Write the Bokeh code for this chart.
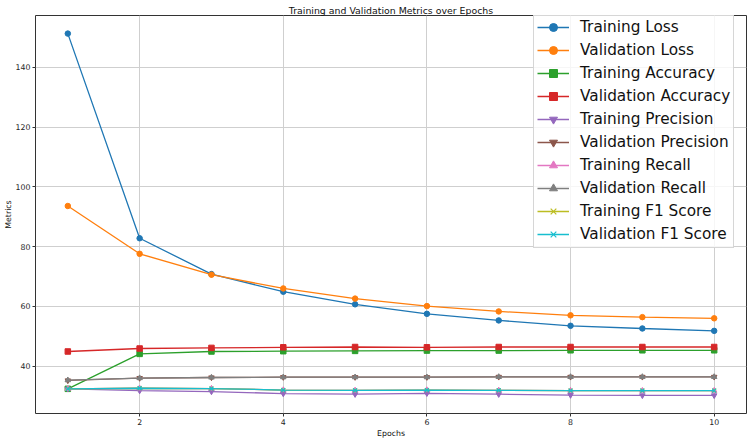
from bokeh.plotting import figure
from bokeh.models import Range1d, Legend, LegendItem, SingleIntervalTicker
from bokeh.embed import file_html
from bokeh.resources import INLINE

epochs = [1, 2, 3, 4, 5, 6, 7, 8, 9, 10]
train_loss = [151.3, 82.8, 70.8, 64.9, 60.7, 57.5, 55.3, 53.5, 52.6, 51.8]
val_loss = [93.6, 77.6, 70.6, 66.0, 62.6, 60.1, 58.3, 57.0, 56.4, 56.0]
train_acc = [32.4, 44.1, 44.9, 45.0, 45.1, 45.2, 45.2, 45.3, 45.3, 45.3]
val_acc = [44.9, 45.9, 46.1, 46.3, 46.4, 46.3, 46.4, 46.4, 46.4, 46.4]
train_prec = [32.4, 31.8, 31.5, 30.8, 30.6, 30.9, 30.6, 30.3, 30.2, 30.2]
val_prec = [35.2, 36.0, 36.2, 36.3, 36.3, 36.3, 36.4, 36.4, 36.4, 36.4]
train_rec = [32.4, 32.6, 32.5, 32.0, 31.9, 32.0, 31.9, 31.8, 31.8, 31.8]
val_rec = [35.3, 36.0, 36.2, 36.3, 36.3, 36.3, 36.4, 36.4, 36.4, 36.4]
train_f1 = [32.4, 32.6, 32.5, 32.0, 31.9, 32.0, 31.9, 31.8, 31.8, 31.8]
val_f1 = [32.4, 32.6, 32.5, 32.0, 31.9, 32.0, 31.9, 31.8, 31.8, 31.8]

series = [
    ("Training Loss", train_loss, "#1f77b4", "circle"),
    ("Validation Loss", val_loss, "#ff7f0e", "circle"),
    ("Training Accuracy", train_acc, "#2ca02c", "square"),
    ("Validation Accuracy", val_acc, "#d62728", "square"),
    ("Training Precision", train_prec, "#9467bd", "inverted_triangle"),
    ("Validation Precision", val_prec, "#8c564b", "inverted_triangle"),
    ("Training Recall", train_rec, "#e377c2", "triangle"),
    ("Validation Recall", val_rec, "#7f7f7f", "triangle"),
    ("Training F1 Score", train_f1, "#bcbd22", "x"),
    ("Validation F1 Score", val_f1, "#17becf", "x"),
]

FONT = "DejaVu Sans"
allv = [v for s in series for v in s[1]]
lo, hi = min(allv), max(allv)
pad = 0.05 * (hi - lo)
xpad = 0.05 * (max(epochs) - min(epochs))

p = figure(width=750, height=441, output_backend="svg", toolbar_location=None,
           x_range=Range1d(min(epochs) - xpad, max(epochs) + xpad),
           y_range=Range1d(lo - pad, hi + pad),
           min_border_left=35, min_border_right=4, min_border_top=15, min_border_bottom=28,
           title="Training and Validation Metrics over Epochs")

p.title.align = "center"
p.title.text_font = FONT
p.title.text_font_size = "9.4px"
p.title.text_font_style = "normal"
p.title.text_color = "#111111"
p.title.standoff = 0

p.background_fill_color = "white"
p.border_fill_color = "white"
p.outline_line_color = "#333333"
p.outline_line_width = 1

p.xaxis.ticker = SingleIntervalTicker(interval=2, num_minor_ticks=0)
p.yaxis.ticker = SingleIntervalTicker(interval=20, num_minor_ticks=0)
for ax in (p.xaxis[0], p.yaxis[0]):
    ax.axis_line_color = None
    ax.major_tick_line_color = "#333333"
    ax.major_tick_out = 3
    ax.major_tick_in = 0
    ax.minor_tick_line_color = None
    ax.major_label_text_font = FONT
    ax.major_label_text_font_size = "7.8px"
    ax.major_label_text_color = "#262626"
    ax.axis_label_text_font = FONT
    ax.axis_label_text_font_size = "7.8px"
    ax.axis_label_text_font_style = "normal"
    ax.axis_label_text_color = "#111111"
p.xaxis.major_label_standoff = 2
p.yaxis.major_label_standoff = 2
p.xaxis.axis_label = "Epochs"
p.yaxis.axis_label = "Metrics"
p.xaxis.axis_label_standoff = 1
p.yaxis.axis_label_standoff = 0

p.grid.grid_line_color = "#cfcfcf"
p.grid.grid_line_width = 1

items = []
for name, vals, color, marker in series:
    lr = p.line(epochs, vals, line_color=color, line_width=1.3)
    sr = p.scatter(epochs, vals, marker=marker, size=5.5, fill_color=color,
                   line_color=color, line_width=1.2 if marker == "x" else 1)
    items.append(LegendItem(label=name, renderers=[lr, sr]))

legend = Legend(items=items, location=(498, 165))
legend.label_text_font = FONT
legend.label_text_font_size = "15.3px"
legend.label_text_color = "#111111"
legend.glyph_width = 32
legend.glyph_height = 20
legend.label_height = 20
legend.spacing = 3
legend.padding = 3
legend.margin = 0
legend.label_standoff = 11
legend.background_fill_color = "white"
legend.background_fill_alpha = 0.8
legend.border_line_color = "#cccccc"
legend.border_line_alpha = 0.8
p.add_layout(legend)

open("out.html", "w").write(file_html(p, INLINE))
